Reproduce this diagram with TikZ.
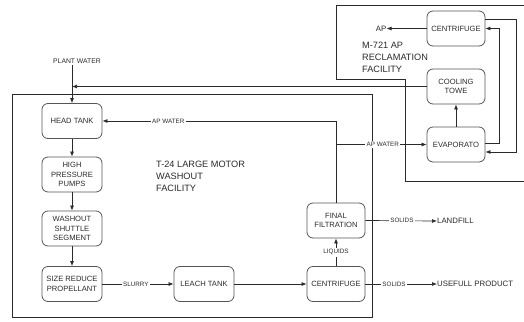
\documentclass[tikz,border=0pt]{standalone}
\usepackage{fontspec}
\setmainfont{Liberation Sans}
\usetikzlibrary{arrows.meta}
\definecolor{ink}{HTML}{2A2A2A}
\definecolor{boxc}{HTML}{555555}
\begin{document}
\begin{tikzpicture}[x=1pt,y=-1pt,
  proc/.style={draw=boxc, line width=0.8pt, rounded corners=6pt, minimum width=58pt, minimum height=35pt, align=center, font=\fontsize{7.6}{9.5}\selectfont, text=ink, inner sep=1pt},
  wide/.style={minimum width=60pt},
  flow/.style={draw=ink, line width=0.7pt, -{Latex[length=5pt,width=4pt]}},
  elab/.style={font=\fontsize{6.3}{7}\selectfont, fill=white, inner sep=1.5pt, text=ink},
  frame/.style={draw=ink, line width=0.8pt},
  big/.style={font=\fontsize{9.2}{12}\selectfont, align=left, text=ink, inner sep=0pt},
  outtxt/.style={font=\fontsize{7.8}{9}\selectfont, text=ink, inner sep=0pt},
  smalltxt/.style={font=\fontsize{6.8}{8}\selectfont, text=ink, inner sep=1pt}
]
\useasboundingbox (0,0) rectangle (524,321);
% frames
\draw[frame] (12,94) rectangle (372,317.5);
\draw[frame] (524,5) -- (336,5) -- (336,79) -- (405,79) -- (405,181) -- (524,181);
% process boxes
\node[proc,wide] (head) at (72,121) {HEAD TANK};
\node[proc,wide] (hpp) at (72,174.5) {HIGH\\PRESSURE\\PUMPS};
\node[proc,wide] (wash) at (72,228.5) {WASHOUT\\SHUTTLE\\SEGMENT};
\node[proc,wide] (size) at (72,284) {SIZE REDUCE\\PROPELLANT};
\node[proc,wide] (leach) at (204,284) {LEACH TANK};
\node[proc] (cenb) at (336,284) {CENTRIFUGE};
\node[proc] (filt) at (336,220.5) {FINAL\\FILTRATION};
\node[proc] (evap) at (456,144.5) {EVAPORATO};
\node[proc] (cool) at (456,86.5) {COOLING\\TOWE};
\node[proc] (cent) at (456,28.5) {CENTRIFUGE};
% free texts
\node[smalltxt] (pw) at (77,61) {PLANT WATER};
\node[big, anchor=west] (t24) at (156,176) {T-24 LARGE MOTOR\\WASHOUT\\FACILITY};
\node[big, anchor=west] (m721) at (362,57) {M-721 AP\\RECLAMATION\\FACILITY};
\node[outtxt, anchor=east] (ap) at (386.5,28.5) {AP};
\node[outtxt, anchor=west] (land) at (437,221) {LANDFILL};
\node[outtxt, anchor=west] (usef) at (437,284) {USEFULL PRODUCT};
% connectors
\coordinate (pwj) at (cool.west -| head.north);
\draw[flow] (pw.south -| head.north) -- (head.north);
\draw[flow] (cool.west) -- (pwj);
\draw[flow] (head.south) -- (hpp.north);
\draw[flow] (hpp.south) -- (wash.north);
\draw[flow] (wash.south) -- (size.north);
\coordinate (j1) at (filt.north |- head.east);
\coordinate (j2) at (filt.north |- evap.west);
\draw[flow] (filt.north) -- (j1) -- node[elab, pos=0.718] {AP WATER} (head.east);
\draw[flow] (j2) -- node[elab, pos=0.516] {AP WATER} (evap.west);
\draw[flow] (size.east) -- node[elab, pos=0.47] {SLURRY} (leach.west);
\draw[flow] (leach.east) -- (cenb.west);
\draw[flow] (cenb.north) -- node[elab] {LIQUIDS} (filt.south);
\draw[flow] (filt.east) -- node[elab, pos=0.51] {SOLIDS} (land.west);
\draw[flow] (cenb.east) -- node[elab, pos=0.4] {SOLIDS} (usef.west);
\draw[flow] (evap.north) -- (cool.south);
\draw[flow] ([yshift=1.5pt]evap.east) -- ++(14,0) |- (cent.east);
\draw[flow] ([yshift=9.5pt]cent.east) -- ++(31,0) |- ([yshift=-7.5pt]evap.east);
\draw[flow] (cent.west) -- (ap.east);
\end{tikzpicture}
\end{document}
